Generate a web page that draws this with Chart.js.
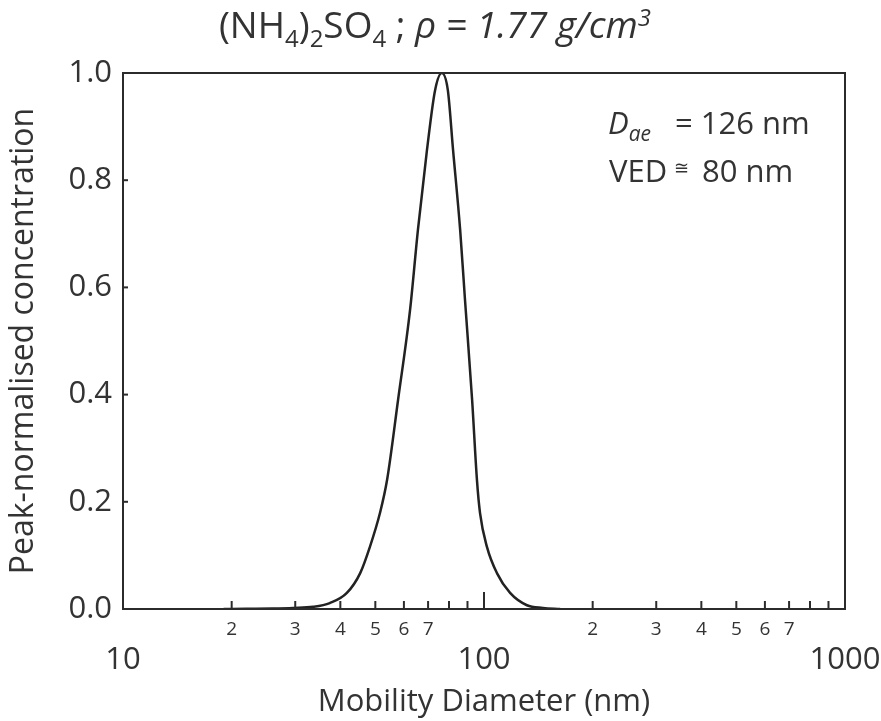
<!DOCTYPE html>
<html>
<head>
<meta charset="utf-8">
<script src="https://cdn.jsdelivr.net/npm/chart.js"></script>
<style>
  body { margin: 0; background: #fff; }
  #wrap { width: 881px; height: 721px; }
</style>
</head>
<body>
<div id="wrap"><canvas id="sizeChart" width="881" height="721"></canvas></div>
<script>
// Datos (diámetro de movilidad en nm, concentración normalizada)
const diametros = [19, 22, 26, 29.6, 33.6, 37.4, 41.7, 45.4, 48.3, 51.5, 53.9, 57.8, 62.4, 65.6, 69.5, 73.2,
                   76.4, 79.4, 82.1, 85.9, 88.6, 92.7, 95.6, 97.5, 101.9, 108.6, 118.1, 131.5, 145.6, 162.5];
const concentracion = [0, 0.0005, 0.001, 0.002, 0.004, 0.011, 0.030, 0.067, 0.116, 0.179, 0.241, 0.390, 0.558, 0.707, 0.856, 0.968,
                       1.0, 0.968, 0.856, 0.707, 0.576, 0.390, 0.241, 0.179, 0.116, 0.067, 0.030, 0.007, 0.002, 0];

// Marcas del eje X (log) y sus etiquetas
const xTicks = [10, 20, 30, 40, 50, 60, 70, 80, 90, 100, 200, 300, 400, 500, 600, 700, 800, 900, 1000];
const xMajor = [10, 100, 1000];
const xMinorLabels = ['2', '3', '4', '5', '6', '7'];
const yTicks = [0, 0.2, 0.4, 0.6, 0.8, 1.0];

const FONT = "'Open Sans', 'DejaVu Sans', sans-serif";
const TXT = '#333333';

function isMajor(v) { return xMajor.includes(v); }

// Marco, marcas hacia dentro y textos
const decoraciones = {
    id: 'decoraciones',
    afterDatasetsDraw(chart) {
        const { ctx, chartArea: a, scales: { x, y } } = chart;
        ctx.save();
        ctx.strokeStyle = '#2b2b2b';
        ctx.lineWidth = 2;
        ctx.strokeRect(a.left, a.top, a.right - a.left, a.bottom - a.top);

        // marcas eje X hacia arriba
        x.ticks.forEach(t => {
            const px = x.getPixelForValue(t.value);
            const len = t.value === 100 ? 17 : 8;
            ctx.beginPath();
            ctx.moveTo(px, a.bottom);
            ctx.lineTo(px, a.bottom - len);
            ctx.stroke();
        });
        // marcas eje Y hacia la derecha
        y.ticks.forEach(t => {
            const py = y.getPixelForValue(t.value);
            ctx.beginPath();
            ctx.moveTo(a.left, py);
            ctx.lineTo(a.left + 5, py);
            ctx.stroke();
        });

        // título con subíndices
        drawPieces(ctx, [
            { t: '(NH', f: '37px ' + FONT, dy: 0 },
            { t: '4', f: '24px ' + FONT, dy: 9 },
            { t: ')', f: '37px ' + FONT, dy: 0 },
            { t: '2', f: '24px ' + FONT, dy: 9 },
            { t: 'SO', f: '37px ' + FONT, dy: 0 },
            { t: '4', f: '24px ' + FONT, dy: 9 },
            { t: ' ; ', f: '37px ' + FONT, dy: 0 },
            { t: 'ρ = 1.77 g/cm', f: 'italic 37px ' + FONT, dy: 0 },
            { t: '3', f: 'italic 24px ' + FONT, dy: -12 }
        ], 435, 38, true);

        // anotaciones
        drawPieces(ctx, [
            { t: 'D', f: 'italic 31px ' + FONT, dy: 0 },
            { t: 'ae', f: 'italic 21px ' + FONT, dy: 7 }
        ], 608, 134, false);
        drawPieces(ctx, [{ t: '= 126 nm', f: '31px ' + FONT, dy: 0 }], 675, 134, false);
        drawPieces(ctx, [{ t: 'VED', f: '31px ' + FONT, dy: 0 }], 609, 182, false);
        drawPieces(ctx, [{ t: '≅', f: '18px ' + FONT, dy: 0 }], 674, 174, false);
        drawPieces(ctx, [{ t: '80 nm', f: '31px ' + FONT, dy: 0 }], 702, 182, false);
        ctx.restore();
    }
};

function drawPieces(ctx, pieces, x, baseY, centered) {
    ctx.fillStyle = TXT;
    ctx.textBaseline = 'alphabetic';
    ctx.textAlign = 'left';
    let total = 0;
    pieces.forEach(p => { ctx.font = p.f; p.w = ctx.measureText(p.t).width; total += p.w; });
    let cx = centered ? x - total / 2 : x;
    pieces.forEach(p => {
        ctx.font = p.f;
        ctx.fillText(p.t, cx, baseY + p.dy);
        cx += p.w;
    });
}

const puntos = diametros.map((d, i) => ({ x: d, y: concentracion[i] }));

new Chart(document.getElementById('sizeChart').getContext('2d'), {
    type: 'line',
    data: {
        datasets: [{
            data: puntos,
            borderColor: '#222222',
            borderWidth: 2.5,
            pointRadius: 0,
            fill: false,
            cubicInterpolationMode: 'monotone'
        }]
    },
    options: {
        responsive: false,
        animation: false,
        layout: { padding: { top: 73, right: 36, bottom: 0, left: 0 } },
        plugins: {
            legend: { display: false },
            tooltip: { enabled: false }
        },
        scales: {
            x: {
                type: 'logarithmic',
                min: 10,
                max: 1000,
                grid: { display: false, drawTicks: false },
                border: { display: false },
                afterBuildTicks: scale => { scale.ticks = xTicks.map(v => ({ value: v, major: isMajor(v) })); },
                afterFit: scale => { scale.height = 112; scale.paddingLeft = 0; scale.paddingRight = 0; },
                ticks: {
                    autoSkip: false,
                    maxRotation: 0,
                    minRotation: 0,
                    padding: 9,
                    color: TXT,
                    font: ctx => {
                        const v = ctx.tick ? ctx.tick.value : 0;
                        return isMajor(v)
                            ? { family: FONT, size: 31, lineHeight: 0.9 }
                            : { family: FONT, size: 19, lineHeight: 1.2 };
                    },
                    callback: function (value) {
                        if (isMajor(value)) return ['', String(value)];
                        const first = Math.round(value / Math.pow(10, Math.floor(Math.log10(value))));
                        return xMinorLabels.includes(String(first)) ? String(first) : '';
                    }
                },
                title: {
                    display: true,
                    text: 'Mobility Diameter (nm)',
                    color: TXT,
                    font: { family: FONT, size: 31 },
                    padding: { top: 0, bottom: 0 }
                }
            },
            y: {
                min: 0,
                max: 1,
                grid: { display: false, drawTicks: false },
                border: { display: false },
                afterBuildTicks: scale => { scale.ticks = yTicks.map(v => ({ value: v })); },
                afterFit: scale => { scale.width = 123; scale.paddingTop = 0; scale.paddingBottom = 0; },
                ticks: {
                    padding: 11,
                    color: TXT,
                    font: { family: FONT, size: 31 },
                    callback: value => value.toFixed(1)
                },
                title: {
                    display: true,
                    text: 'Peak-normalised concentration',
                    color: TXT,
                    font: { family: FONT, size: 32 },
                    padding: { top: 5, bottom: 0 }
                }
            }
        }
    },
    plugins: [decoraciones]
});
</script>
</body>
</html>
